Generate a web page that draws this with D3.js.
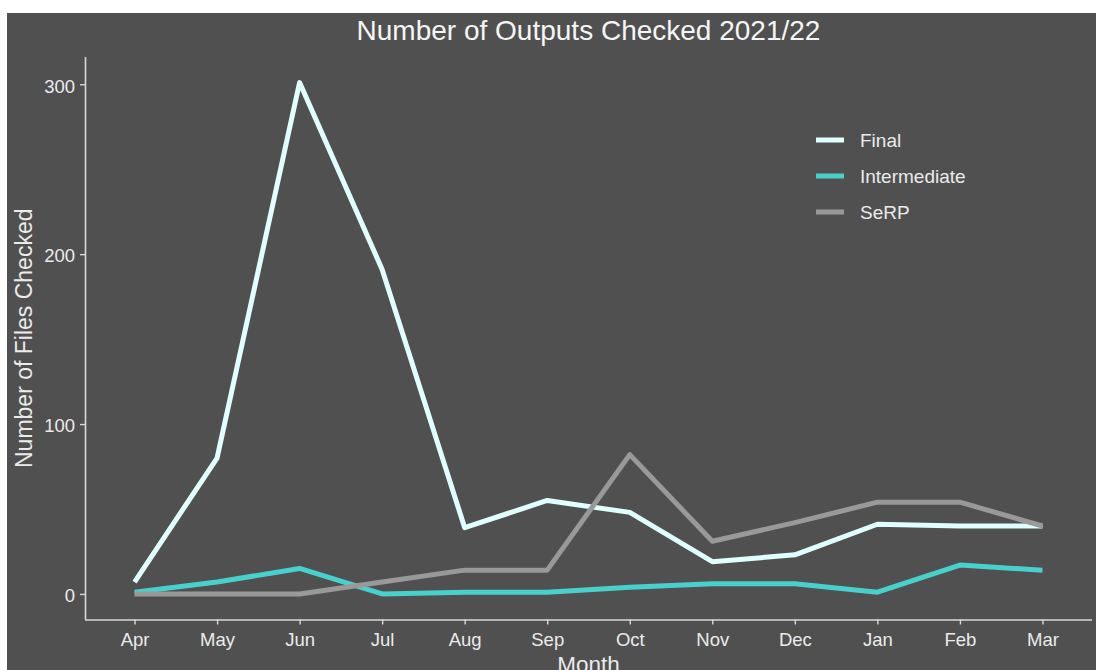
<!DOCTYPE html>
<html>
<head>
<meta charset="utf-8">
<script src="https://cdn.jsdelivr.net/npm/d3@7"></script>
<style>
  html, body { margin: 0; padding: 0; background: #ffffff; }
  svg { display: block; }
  text { font-family: "Liberation Sans", Arial, sans-serif; }
</style>
</head>
<body>
<script>
// ---- data ----
const months = ["Apr","May","Jun","Jul","Aug","Sep","Oct","Nov","Dec","Jan","Feb","Mar"];
const finalValues        = [7, 80, 301, 191, 39, 55, 48, 19, 23, 41, 40, 40];
const intermediateValues = [1, 7, 15, 0, 1, 1, 4, 6, 6, 1, 17, 14];
const serpValues         = [0, 0, 0, 7, 14, 14, 82, 31, 42, 54, 54, 40];
const seriesNames  = ["Final", "Intermediate", "SeRP"];
const seriesColors = ["#E0FFFF", "#48D1CC", "#999999"];
const yTicks = [0, 100, 200, 300];
const chartTitle = "Number of Outputs Checked 2021/22";
const xTitle = "Month";
const yTitle = "Number of Files Checked";

const series = [
  { name: seriesNames[0], color: seriesColors[0], values: finalValues },
  { name: seriesNames[1], color: seriesColors[1], values: intermediateValues },
  { name: seriesNames[2], color: seriesColors[2], values: serpValues }
];

// ---- layout ----
const W = 1096, H = 670;
const panel = { x0: 7, y0: 13 };
const plot = { left: 85, right: 1092, top: 57, bottom: 619.5 };
const bg = "#505050";
const textCol = "#EBEBEB";
const axisCol = "#D9D9D9";

const svg = d3.select("body").append("svg").attr("width", W).attr("height", H);
svg.append("rect").attr("x", 0).attr("y", 0).attr("width", W).attr("height", H).attr("fill", "#ffffff");
svg.append("rect").attr("x", panel.x0).attr("y", panel.y0)
  .attr("width", W - panel.x0).attr("height", H - panel.y0).attr("fill", bg);

// scales (ggplot-like expansion)
const x = d3.scalePoint().domain(months).range([plot.left, plot.right]).padding(0.6);
const allVals = finalValues.concat(intermediateValues, serpValues);
const yMin = d3.min(allVals), yMax = d3.max(allVals);
const pad = (yMax - yMin) * 0.05;
const y = d3.scaleLinear().domain([yMin - pad, yMax + pad]).range([plot.bottom, plot.top]);

// axes
const xAxis = d3.axisBottom(x).tickSize(5).tickPadding(8);
const yAxis = d3.axisLeft(y).tickValues(yTicks).tickSize(5).tickPadding(5);

const gx = svg.append("g").attr("transform", `translate(0,${plot.bottom})`).call(xAxis);
gx.select(".domain").attr("d", `M${plot.left},0.5H${plot.right}`);
const gy = svg.append("g").attr("transform", `translate(${plot.left},0)`).call(yAxis);
gy.select(".domain").attr("d", `M0.5,${plot.top}V${plot.bottom}`);

[gx, gy].forEach(g => {
  g.select(".domain").attr("stroke", axisCol).attr("stroke-width", 1.6).attr("fill", "none");
  g.selectAll(".tick line").attr("stroke", axisCol).attr("stroke-width", 1.4);
  g.selectAll(".tick text").attr("fill", textCol).attr("font-size", "18.5px")
    .attr("font-family", "'Liberation Sans', Arial, sans-serif");
});
gy.selectAll(".tick text").attr("dy", "0.42em");

// lines
const line = d3.line().x((d, i) => x(months[i])).y(d => y(d));
svg.append("g").selectAll("path").data(series).join("path")
  .attr("d", d => line(d.values))
  .attr("fill", "none")
  .attr("stroke", d => d.color)
  .attr("stroke-width", 5)
  .attr("stroke-linejoin", "round")
  .attr("stroke-linecap", "butt");

// title
svg.append("text").attr("x", (plot.left + plot.right) / 2).attr("y", 40)
  .attr("text-anchor", "middle").attr("fill", "#F5F5F5").attr("font-size", "28px")
  .text(chartTitle);

// axis titles
svg.append("text").attr("x", (plot.left + plot.right) / 2).attr("y", 672)
  .attr("text-anchor", "middle").attr("fill", textCol).attr("font-size", "22.5px")
  .text(xTitle);
svg.append("text")
  .attr("transform", `translate(32,${(plot.top + plot.bottom) / 2}) rotate(-90)`)
  .attr("text-anchor", "middle").attr("fill", textCol).attr("font-size", "23px")
  .text(yTitle);

// legend
const legend = svg.append("g");
const legY0 = 140, legStep = 36;
series.forEach((s, i) => {
  const ly = legY0 + i * legStep;
  legend.append("line").attr("x1", 816).attr("x2", 844).attr("y1", ly).attr("y2", ly)
    .attr("stroke", s.color).attr("stroke-width", 5);
  legend.append("text").attr("x", 860).attr("y", ly).attr("dy", "0.36em")
    .attr("fill", textCol).attr("font-size", "19px").text(s.name);
});
</script>
</body>
</html>
